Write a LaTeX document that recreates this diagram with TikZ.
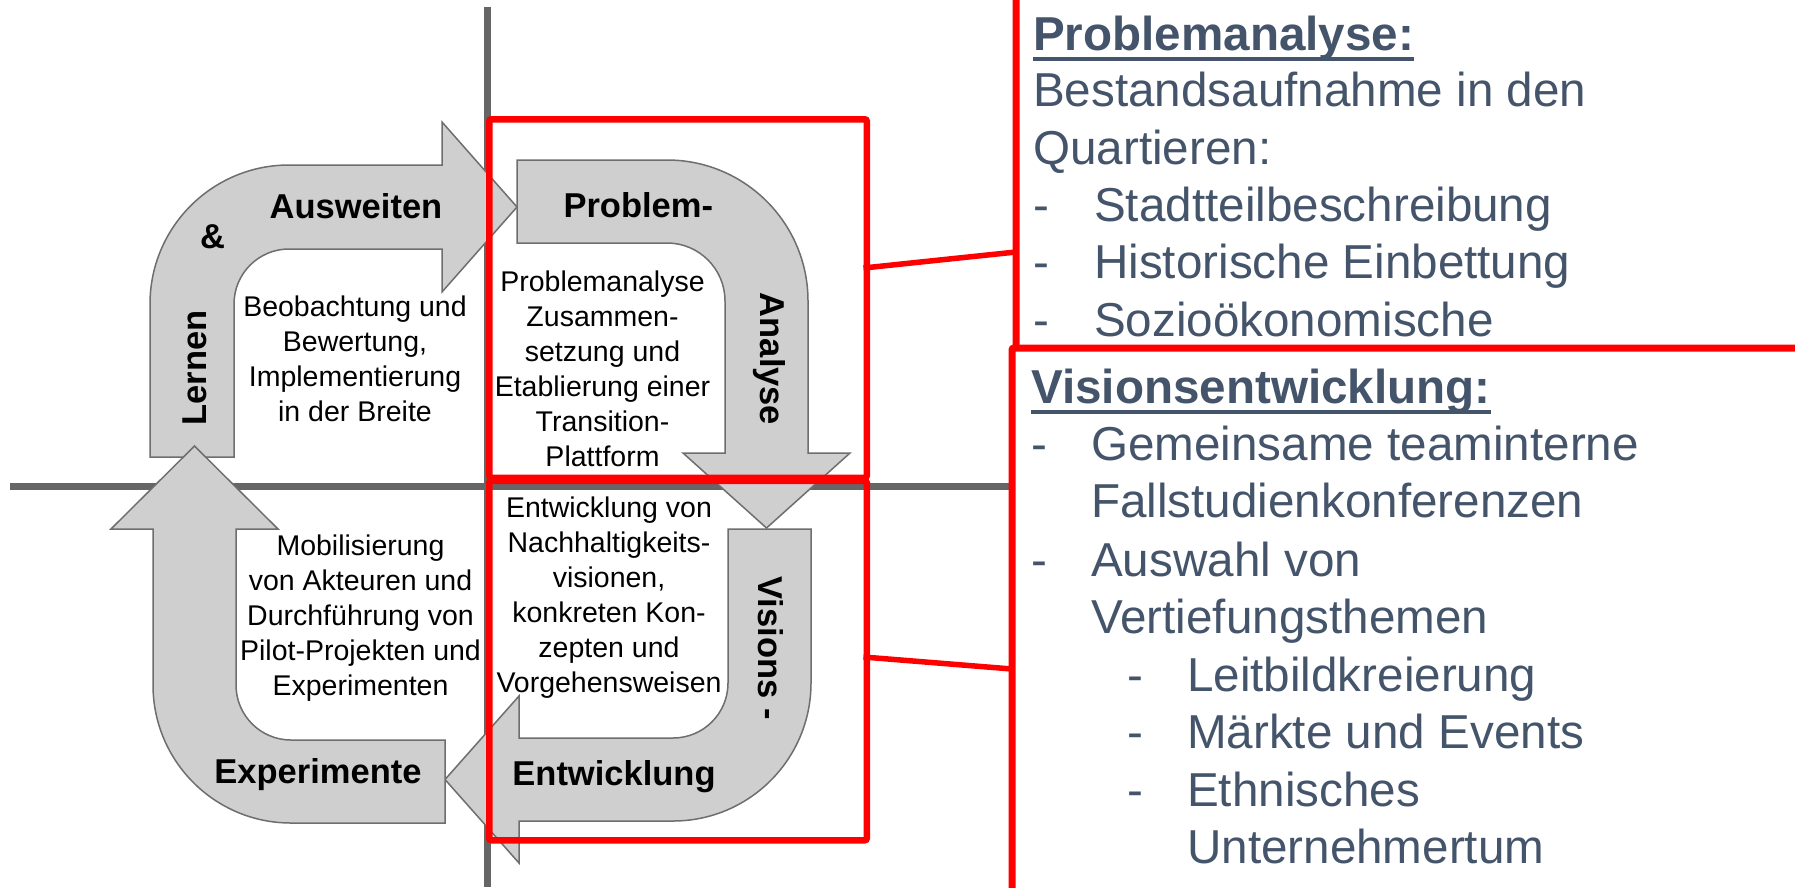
\documentclass[tikz,border=0pt]{standalone}
\usepackage{fontspec}
\setmainfont{Liberation Sans}
\definecolor{arrowfill}{HTML}{CFCFCF}
\definecolor{arrowline}{HTML}{6E6E6E}
\definecolor{axisgray}{HTML}{666666}
\definecolor{slate}{HTML}{44546A}
\newcommand\myfs[2]{\fontsize{#1}{#2}\selectfont}
\begin{document}
\begin{tikzpicture}[x=1pt,y=-1pt,
  bentarrow/.style={fill=arrowfill,draw=arrowline,line width=1.5pt,line join=miter},
  axisline/.style={draw=axisgray,line width=7pt},
  redbox/.style={draw=red,line width=6.5pt,rounded corners=2pt},
  panelbox/.style={draw=red,fill=white,line width=7pt,rounded corners=2pt},
  redlink/.style={draw=red,line width=5.5pt},
  phase/.style={font=\myfs{34.5}{40}\bfseries,inner sep=0},
  desc/.style={font=\myfs{28.5}{35},inner sep=0,anchor=base},
  rtext/.style={font=\myfs{47.6}{57},text=slate,inner sep=0,anchor=base west},
  rhead/.style={rtext,font=\myfs{47.6}{57}\bfseries},
  uline/.style={draw=slate,line width=4pt}
]
\useasboundingbox (0,0) rectangle (1795,887);
\clip (0,0) rectangle (1795,887);
\fill[white] (0,0) rectangle (1795,887);

% axes
\coordinate (vtop) at (487,7);
\coordinate (vbot) at (487,887);
\coordinate (hl) at (10,486);
\coordinate (hr) at (1012,486);
\draw[axisline] (vtop) -- (vbot);
\draw[axisline] (hl) -- (hr);

% bent arrows
\draw[bentarrow] (150,457) -- (150,304) arc[start angle=180,end angle=270,radius=139]
  -- (442,165) -- (442,122) -- (517,207) -- (442,292) -- (442,249) -- (289,249)
  arc[start angle=270,end angle=180,radius=55] -- (234,457) -- cycle;
\draw[bentarrow] (517,160) -- (667,160) arc[start angle=270,end angle=360,radius=141]
  -- (808,453) -- (850,453) -- (766.5,528) -- (683,453) -- (725,453) -- (725,301)
  arc[start angle=0,end angle=-90,radius=58] -- (517,243) -- cycle;
\draw[bentarrow] (728,529) -- (811,529) -- (811,683) arc[start angle=0,end angle=90,radius=138]
  -- (519,821) -- (519,863) -- (445,779.5) -- (519,696) -- (519,738) -- (673,738)
  arc[start angle=90,end angle=0,radius=55] -- cycle;
\draw[bentarrow] (445,740) -- (291,740) arc[start angle=90,end angle=180,radius=55]
  -- (236,529) -- (278,529) -- (194.5,446) -- (111,529) -- (153,529) -- (153,685)
  arc[start angle=180,end angle=90,radius=138] -- (445,823) -- cycle;

% phase labels
\node[phase,anchor=base] (ausw) at (356,218) {Ausweiten};
\node[phase,anchor=base] (amp) at (212.5,248) {\&};
\node[phase,rotate=90] (lern) at (195,368) {Lernen};
\node[phase,anchor=base] (prob) at (638.3,217.7) {Problem-};
\node[phase,rotate=-90] (anal) at (769.4,359) {Analyse};
\node[phase,rotate=-90] (visi) at (771,648) {Visions -};
\node[phase,anchor=base] (entw) at (614,785) {Entwicklung};
\node[phase,anchor=base] (expe) at (318,783) {Experimente};

% descriptions
\node[desc] (dtl) at (355,316.7) {\begin{tabular}[t]{@{}c@{}}Beobachtung und\\Bewertung,\\Implementierung\\in der Breite\end{tabular}};
\node[desc] (dtr) at (602.5,291.7) {\begin{tabular}[t]{@{}c@{}}Problemanalyse\\Zusammen-\\setzung und\\Etablierung einer\\Transition-\\Plattform\end{tabular}};
\node[desc] (dbr) at (609,517.3) {\begin{tabular}[t]{@{}c@{}}Entwicklung von\\Nachhaltigkeits-\\visionen,\\konkreten Kon-\\zepten und\\Vorgehensweisen\end{tabular}};
\node[desc] (dbl) at (360.5,555) {\begin{tabular}[t]{@{}c@{}}Mobilisierung\\von Akteuren und\\Durchf\"uhrung von\\Pilot-Projekten und\\Experimenten\end{tabular}};

% red highlight boxes
\node[redbox,minimum width=377.5pt,minimum height=358.5pt,anchor=north west,inner sep=0] (rb1) at (486,116) {};
\node[redbox,minimum width=377.5pt,minimum height=359.5pt,anchor=north west,inner sep=0] (rb2) at (486,477.5) {};

% connectors
\coordinate (l1a) at (863.5,268);
\coordinate (l1b) at (1016,252);
\coordinate (l2a) at (863.5,657);
\coordinate (l2b) at (1012,669);
\draw[redlink] (l1a) -- (l1b);
\draw[redlink] (l2a) -- (l2b);

% right panel 1
\draw[panelbox] (1016,-40) rectangle (1840,700);
\node[rhead] (pa) at (1033,50) {Problemanalyse:};
\draw[uline] ([yshift=-8.5pt]pa.base west) -- ([yshift=-8.5pt]pa.base east);
\node[rtext] (pb1) at (1033,106) {Bestandsaufnahme in den};
\node[rtext] (pb2) at (1033,164) {Quartieren:};
\node[rtext] (pd1) at (1033,221) {\makebox[61pt][l]{-}Stadtteilbeschreibung};
\node[rtext] (pd2) at (1033,278) {\makebox[61pt][l]{-}Historische Einbettung};
\node[rtext] (pd3) at (1033,336) {\makebox[61pt][l]{-}Sozio\"okonomische};

% right panel 2
\draw[panelbox] (1012,348) rectangle (1840,940);
\node[rhead] (va) at (1031,403) {Visionsentwicklung:};
\draw[uline] ([yshift=-8.5pt]va.base west) -- ([yshift=-8.5pt]va.base east);
\node[rtext] (v1) at (1031,460.5) {\makebox[60pt][l]{-}Gemeinsame teaminterne};
\node[rtext] (v2) at (1091,517.5) {Fallstudienkonferenzen};
\node[rtext] (v3) at (1031,576) {\makebox[60pt][l]{-}Auswahl von};
\node[rtext] (v4) at (1091,633.5) {Vertiefungsthemen};
\node[rtext] (v5) at (1127,691.5) {\makebox[60pt][l]{-}Leitbildkreierung};
\node[rtext] (v6) at (1127,748.5) {\makebox[60pt][l]{-}M\"arkte und Events};
\node[rtext] (v7) at (1127,806) {\makebox[60pt][l]{-}Ethnisches};
\node[rtext] (v8) at (1187,863.5) {Unternehmertum};
\end{tikzpicture}
\end{document}
